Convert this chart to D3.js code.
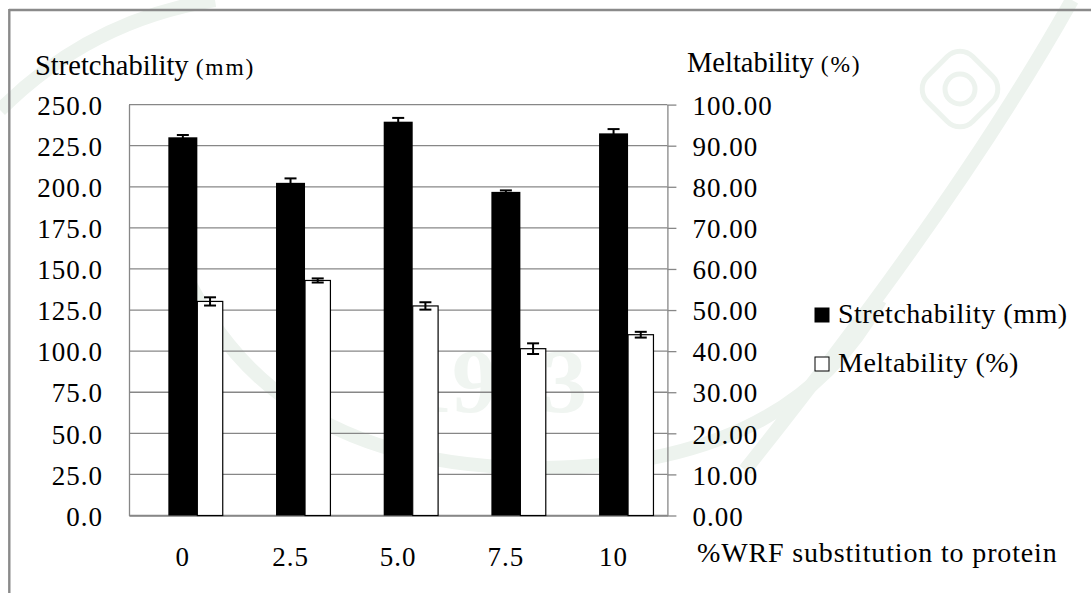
<!DOCTYPE html>
<html>
<head>
<meta charset="utf-8">
<script src="https://cdn.jsdelivr.net/npm/d3@7"></script>
<style>
  html, body { margin: 0; padding: 0; background: #fff; }
  svg { display: block; }
  text { font-family: "Liberation Serif", "Times New Roman", serif; }
</style>
</head>
<body>
<svg id="chart" width="1091" height="593"></svg>
<script>
// WRF substitution levels (% of protein)
const categories = ["0", "2.5", "5.0", "7.5", "10"];

// Stretchability (mm), mean and error
const stretchability = [230.1, 202.4, 239.6, 196.9, 232.5];
const stretchErr = [1.4, 2.7, 2.3, 0.9, 2.6];

// Meltability (%), mean and error
const meltability = [52.1, 57.2, 51.0, 40.6, 44.0];
const meltErr = [1.0, 0.5, 0.9, 1.3, 0.7];

// Axis tick values
const leftTicks = [0, 25, 50, 75, 100, 125, 150, 175, 200, 225, 250];
const rightTicks = [0, 10, 20, 30, 40, 50, 60, 70, 80, 90, 100];

const SERIF = '"Liberation Serif", "Times New Roman", serif';
const svg = d3.select("#chart");

const plot = { left: 129, right: 667.4, top: 104.6, bottom: 515.5 };
const gray = "#878787";

// faint background seal
const wmColor = "#edf3ee";
const wm = svg.append("g").attr("fill", "none").attr("stroke", wmColor).attr("stroke-width", 14);
wm.append("path").attr("d", "M 175 250 Q 260 470 545 468 Q 790 466 880 300");
wm.append("path").attr("d", "M 1072 0 Q 960 200 745 470");
wm.append("path").attr("d", "M 0 110 Q 90 20 215 0");
wm.append("text").attr("x", 497).attr("y", 412).attr("text-anchor", "middle")
  .style("font-family", SERIF).style("font-size", "90px").style("font-weight", "bold")
  .style("fill", "#f0f5f1").style("stroke", "none").text("1943");
const flower = wm.append("g").attr("transform", "translate(960,89)").attr("stroke-width", 5);
flower.append("circle").attr("r", 15);
flower.append("rect").attr("x", -32).attr("y", -32).attr("width", 64).attr("height", 64)
  .attr("rx", 18).attr("transform", "rotate(45)");

// page frame
svg.append("line").attr("x1", 9).attr("x2", 1091).attr("y1", 10).attr("y2", 10)
  .attr("stroke", "#8a8a8a").attr("stroke-width", 2.4);
svg.append("line").attr("x1", 9.3).attr("x2", 9.3).attr("y1", 9).attr("y2", 593)
  .attr("stroke", "#8a8a8a").attr("stroke-width", 2.4);

const x = d3.scaleBand().domain(categories).range([plot.left, plot.right]).padding(0);
const yL = d3.scaleLinear().domain([0, 250]).range([plot.bottom, plot.top]);
const yR = d3.scaleLinear().domain([0, 100]).range([plot.bottom, plot.top]);

// horizontal gridlines
svg.append("g").selectAll("line").data(leftTicks).join("line")
  .attr("x1", plot.left).attr("x2", plot.right)
  .attr("y1", d => yL(d)).attr("y2", d => yL(d))
  .attr("stroke", gray).attr("stroke-width", 1.3);

function styleTicks(sel, size, spacing) {
  sel.selectAll("text").style("font-size", size).style("font-family", SERIF)
    .style("fill", "#000").attr("letter-spacing", spacing);
}

// left axis
const leftAxis = svg.append("g").attr("transform", `translate(${plot.left},0)`)
  .call(d3.axisLeft(yL).tickValues(leftTicks).tickSize(0).tickPadding(26).tickFormat(d3.format(".1f")));
leftAxis.select(".domain").attr("stroke", gray).attr("stroke-width", 1.3);
styleTicks(leftAxis, "27px", "1px");
leftAxis.selectAll("text").attr("dy", "0.36em");

// right axis
const rightAxis = svg.append("g").attr("transform", `translate(${plot.right},0)`)
  .call(d3.axisRight(yR).tickValues(rightTicks).tickSize(9).tickSizeOuter(0).tickPadding(16).tickFormat(d3.format(".2f")));
rightAxis.select(".domain").attr("stroke", gray).attr("stroke-width", 1.3);
rightAxis.selectAll(".tick line").attr("stroke", gray).attr("stroke-width", 1.3);
styleTicks(rightAxis, "27px", "1px");
rightAxis.selectAll("text").attr("dy", "0.36em");

// bottom axis
const bottomAxis = svg.append("g").attr("transform", `translate(0,${plot.bottom})`)
  .call(d3.axisBottom(x).tickSize(0).tickPadding(31));
bottomAxis.select(".domain").attr("stroke", gray).attr("stroke-width", 1.3);
styleTicks(bottomAxis, "27px", "1px");

const bw = x.bandwidth();
const blackW = 29, whiteW = 25.4;

// stretchability bars (primary axis)
svg.append("g").selectAll("rect").data(categories).join("rect")
  .attr("x", (c) => x(c) + bw / 2 - blackW / 2)
  .attr("width", blackW)
  .attr("y", (c, i) => yL(stretchability[i]))
  .attr("height", (c, i) => yL(0) - yL(stretchability[i]))
  .attr("fill", "#000");

// meltability bars (secondary axis)
svg.append("g").selectAll("rect").data(categories).join("rect")
  .attr("x", (c) => x(c) + bw / 2 + blackW / 2)
  .attr("width", whiteW)
  .attr("y", (c, i) => yR(meltability[i]))
  .attr("height", (c, i) => yR(0) - yR(meltability[i]))
  .attr("fill", "#fff").attr("stroke", "#000").attr("stroke-width", 1.2);

// error bars
function errorBars(values, errs, scale, cxFn) {
  const g = svg.append("g").attr("stroke", "#000").attr("stroke-width", 2);
  const capW = 12;
  values.forEach((v, i) => {
    const cx = cxFn(categories[i]);
    const y1 = scale(v + errs[i]), y2 = scale(v - errs[i]);
    g.append("line").attr("x1", cx).attr("x2", cx).attr("y1", y1).attr("y2", y2);
    g.append("line").attr("x1", cx - capW / 2).attr("x2", cx + capW / 2).attr("y1", y1).attr("y2", y1);
    g.append("line").attr("x1", cx - capW / 2).attr("x2", cx + capW / 2).attr("y1", y2).attr("y2", y2);
  });
}
errorBars(stretchability, stretchErr, yL, c => x(c) + bw / 2);
errorBars(meltability, meltErr, yR, c => x(c) + bw / 2 + blackW / 2 + whiteW / 2);

// axis titles
const tl = svg.append("text").attr("x", 35).attr("y", 75)
  .style("font-family", SERIF).style("font-size", "28.5px").style("fill", "#000");
tl.append("tspan").text("Stretchability ");
tl.append("tspan").style("font-size", "23.5px").attr("letter-spacing", "1.8px").text("(mm)");

const tr = svg.append("text").attr("x", 687).attr("y", 72)
  .style("font-family", SERIF).style("font-size", "28.5px").style("fill", "#000");
tr.append("tspan").text("Meltability ");
tr.append("tspan").style("font-size", "23.5px").attr("letter-spacing", "1.8px").text("(%)");

svg.append("text").attr("x", 697).attr("y", 562)
  .style("font-family", SERIF).style("font-size", "28px").style("fill", "#000")
  .attr("letter-spacing", "0.85px").text("%WRF substitution to protein");

// legend
const legend = [
  { label: "Stretchability (mm)", fill: "#000" },
  { label: "Meltability (%)", fill: "#fff" }
];
const lg = svg.append("g").attr("transform", "translate(815,308)");
lg.selectAll("rect").data(legend).join("rect")
  .attr("x", 0).attr("y", (d, i) => i * 49)
  .attr("width", 14).attr("height", 14)
  .attr("fill", d => d.fill).attr("stroke", "#000").attr("stroke-width", 1);
lg.selectAll("text").data(legend).join("text")
  .attr("x", 23).attr("y", (d, i) => i * 49 + 15)
  .style("font-family", SERIF).style("font-size", "28px").style("fill", "#000")
  .attr("letter-spacing", "0.5px").text(d => d.label);
</script>
</body>
</html>
